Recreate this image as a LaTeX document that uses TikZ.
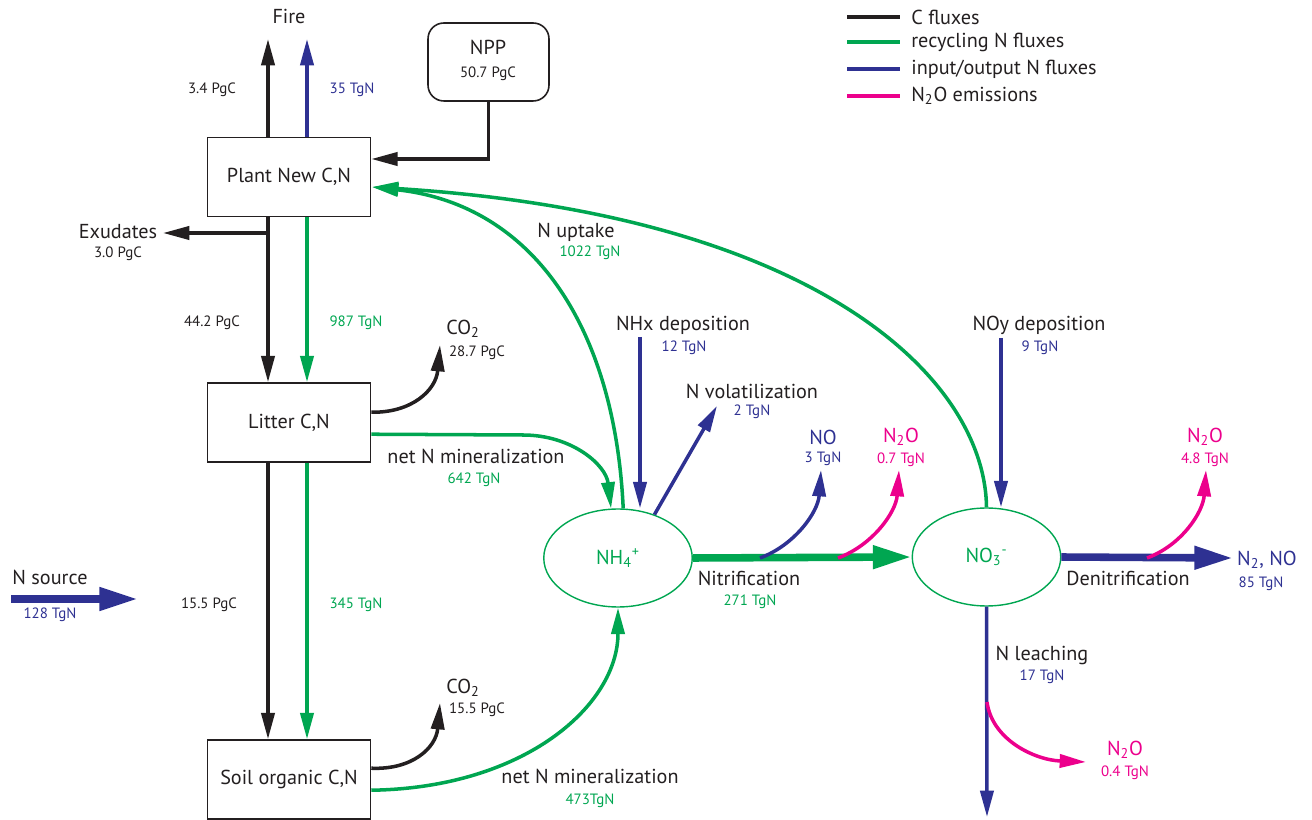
\documentclass[tikz,border=0pt]{standalone}
\usepackage{fontspec}
\setmainfont{PT Sans}
\usetikzlibrary{arrows.meta,shapes.geometric,calc}
\definecolor{cdark}{HTML}{231F20}
\definecolor{cgreen}{HTML}{00A651}
\definecolor{cblue}{HTML}{2E3192}
\definecolor{cpink}{HTML}{EC008C}
\begin{document}
\begin{tikzpicture}[x=0.02cm,y=-0.02cm,
  lbl/.style={font=\fontsize{11.5}{13}\selectfont,text=cdark,inner sep=0},
  num/.style={font=\fontsize{8.5}{10}\selectfont,inner sep=0,text=cdark},
  box/.style={draw=cdark,line width=0.9pt,minimum width=3.26cm,minimum height=1.58cm,font=\fontsize{11.5}{13}\selectfont,text=cdark,inner sep=0},
  pool/.style={ellipse,draw=cgreen,line width=0.8pt,minimum width=2.97cm,minimum height=1.96cm,text=cgreen,font=\fontsize{11.5}{13}\selectfont,inner sep=0},
  tip/.style={-{Triangle[length=15pt,width=7.5pt]}},
  bigtip/.style={-{Triangle[length=22pt,width=12.5pt]}},
  cflux/.style={draw=cdark,line width=2pt,tip},
  gflux/.style={draw=cgreen,line width=2pt,tip},
  bflux/.style={draw=cblue,line width=2pt,tip},
  pflux/.style={draw=cpink,line width=2pt,tip},
  thick flux/.style={line width=4.3pt,bigtip},
  legline/.style={line width=2pt},
]
\useasboundingbox (0,0) rectangle (1312,820);

% boxes and pools
\node[box] (plant) at (289,177) {Plant New C,N};
\node[box] (litter) at (289,422.5) {Litter C,N};
\node[box] (soil) at (289,779.5) {Soil organic C,N};
\node[draw=cdark,line width=0.9pt,rounded corners=9pt,minimum width=2.42cm,minimum height=1.56cm,inner sep=0] (npp) at (488.5,62) {};
\node[lbl] (nppT) at (488,47) {NPP};
\node[num] (nppV) at (488,74) {50.7 PgC};
\node[pool] (nh4) at (618,558) {NH\textsubscript{4}\textsuperscript{+}};
\node[pool] (no3) at (986.5,557) {NO\textsubscript{3}\textsuperscript{-}};

% free ends
\coordinate (fireC) at (268,39);
\coordinate (fireN) at (307,39);
\coordinate (xA) at (268,0);
\coordinate (xB) at (307,0);
\coordinate (y160) at (0,159);
\coordinate (exS) at (268,233);
\coordinate (exE) at (163,233);
\coordinate (co2a) at (440,345);
\coordinate (co2b) at (440,703);
\coordinate (nhxS) at (640,337);
\coordinate (volE) at (717,406);
\coordinate (noyS) at (1001,338);
\coordinate (noS) at (760,558);
\coordinate (noE) at (821,470);
\coordinate (n2oaS) at (838,558);
\coordinate (n2oaE) at (899,470);
\coordinate (denE) at (1233,558);
\coordinate (n2obS) at (1147,558);
\coordinate (n2obE) at (1206,470);
\coordinate (leachE) at (987,817);
\coordinate (n2ocS) at (987,702);
\coordinate (n2ocE) at (1086,762);
\coordinate (nsS) at (11,599);
\coordinate (nsE) at (138,599);
\coordinate (uptE) at (372,187);

% C fluxes
\draw[cflux] (xA |- plant.north) -- (fireC);
\draw[bflux] (xB |- plant.north) -- (fireN);
\draw[cflux] (npp.south) |- (plant.east |- y160);
\draw[cflux] (exS) -- (exE);
\draw[cflux] (xA |- plant.south) -- (xA |- litter.north);
\draw[gflux] (xB |- plant.south) -- (xB |- litter.north);
\draw[cflux] (xA |- litter.south) -- (xA |- soil.north);
\draw[gflux] (xB |- litter.south) -- (xB |- soil.north);
\draw[cflux] ($(litter.north east)+(0,30)$) .. controls (412,413) and (436,390) .. (co2a);
\draw[cflux] ($(soil.north east)+(0,29)$) .. controls (412,770) and (436,748) .. (co2b);

% recycling N
\draw[gflux] ($(litter.north east)+(0,52)$) -- (523,435) .. controls (572,435) and (606,465) .. (nh4.98);
\draw[gflux] ($(soil.north east)+(0,51)$) .. controls (525,788) and (618,705) .. (nh4.south);
\draw[gflux] (nh4.84) .. controls (615,330) and (535,205) .. (uptE);
\draw[gflux] (no3.north) .. controls (985,380) and (820,215) .. (uptE);
\draw[gflux,thick flux] (nh4.east) -- (no3.west);

% input/output N
\draw[bflux] (nhxS) -- (nhxS |- nh4.north);
\draw[bflux] (nh4.50) -- (volE);
\draw[bflux] (noyS) -- (noyS |- no3.north);
\draw[bflux] (noS) .. controls (795,545) and (818,512) .. (noE);
\draw[draw=cblue,thick flux] (no3.east) -- (denE);
\draw[bflux] (no3.south) -- (leachE);
\draw[draw=cblue,thick flux] (nsS) -- (nsE);

% N2O
\draw[pflux] (n2oaS) .. controls (873,545) and (896,512) .. (n2oaE);
\draw[pflux] (n2obS) .. controls (1182,545) and (1203,512) .. (n2obE);
\draw[pflux] (n2ocS) .. controls (992,740) and (1035,760) .. (n2ocE);

% labels
\node[lbl] (fire) at (289,16) {Fire};
\node[num] (l34) at (212,90) {3.4 PgC};
\node[num,text=cblue] (l35) at (352,90) {35 TgN};
\node[lbl] (exud) at (118,232) {Exudates};
\node[num] (l30) at (118,254) {3.0 PgC};
\node[num] (l442) at (212,323) {44.2 PgC};
\node[num,text=cgreen] (l987) at (356,323) {987 TgN};
\node[lbl] (co2T1) at (463,329) {CO\textsubscript{2}};
\node[num] (l287) at (477,353) {28.7 PgC};
\node[lbl] (upt) at (576,232) {N uptake};
\node[num,text=cgreen] (l1022) at (590,253) {1022 TgN};
\node[lbl] (nmin1) at (476,456) {net N mineralization};
\node[num,text=cgreen] (l642) at (474,480) {642 TgN};
\node[lbl] (nhx) at (683,325) {NHx deposition};
\node[num,text=cblue] (l12) at (684,348) {12 TgN};
\node[lbl] (vol) at (752,391) {N volatilization};
\node[num,text=cblue] (l2) at (752,412) {2 TgN};
\node[lbl,text=cblue] (noT) at (823,437) {NO};
\node[num,text=cblue] (l3) at (823,459) {3 TgN};
\node[lbl,text=cpink] (n2oA) at (901,437) {N\textsubscript{2}O};
\node[num,text=cpink] (l07) at (901,460) {0.7 TgN};
\node[lbl] (noy) at (1039,325) {NOy deposition};
\node[num,text=cblue] (l9) at (1040,348) {9 TgN};
\node[lbl,text=cpink] (n2oB) at (1205,437) {N\textsubscript{2}O};
\node[num,text=cpink] (l48) at (1205,460) {4.8 TgN};
\node[lbl] (nitr) at (749,578) {Nitrification};
\node[num,text=cgreen] (l271) at (750,602) {271 TgN};
\node[lbl] (denit) at (1128,578) {Denitrification};
\node[lbl,text=cblue] (n2no) at (1267,560) {N\textsubscript{2}, NO};
\node[num,text=cblue] (l85) at (1261,584) {85 TgN};
\node[lbl] (nsrc) at (50,577) {N source};
\node[num,text=cblue] (l128) at (50,615) {128 TgN};
\node[num] (l155a) at (209,605) {15.5 PgC};
\node[num,text=cgreen] (l345) at (356,605) {345 TgN};
\node[lbl] (leach) at (1042,655) {N leaching};
\node[num,text=cblue] (l17) at (1042,677) {17 TgN};
\node[lbl,text=cpink] (n2oC) at (1125,750) {N\textsubscript{2}O};
\node[num,text=cpink] (l04) at (1125,773) {0.4 TgN};
\node[lbl] (co2T2) at (463,688) {CO\textsubscript{2}};
\node[num] (l155b) at (477,710) {15.5 PgC};
\node[lbl] (nmin2) at (590,776) {net N mineralization};
\node[num,text=cgreen] (l473) at (590,801) {473TgN};

% legend
\coordinate (lgA1) at (847,17); \coordinate (lgB1) at (900,17);
\coordinate (lgA2) at (847,42); \coordinate (lgB2) at (900,42);
\coordinate (lgA3) at (847,69); \coordinate (lgB3) at (900,69);
\coordinate (lgA4) at (847,96); \coordinate (lgB4) at (900,96);
\draw[legline,cdark] (lgA1) -- (lgB1);
\draw[legline,cgreen] (lgA2) -- (lgB2);
\draw[legline,cblue] (lgA3) -- (lgB3);
\draw[legline,cpink] (lgA4) -- (lgB4);
\node[lbl,anchor=west] (lg1) at (911,17) {C fluxes};
\node[lbl,anchor=west] (lg2) at (911,42) {recycling N fluxes};
\node[lbl,anchor=west] (lg3) at (911,69) {input/output N fluxes};
\node[lbl,anchor=west] (lg4) at (911,96) {N\textsubscript{2}O emissions};
\end{tikzpicture}
\end{document}
